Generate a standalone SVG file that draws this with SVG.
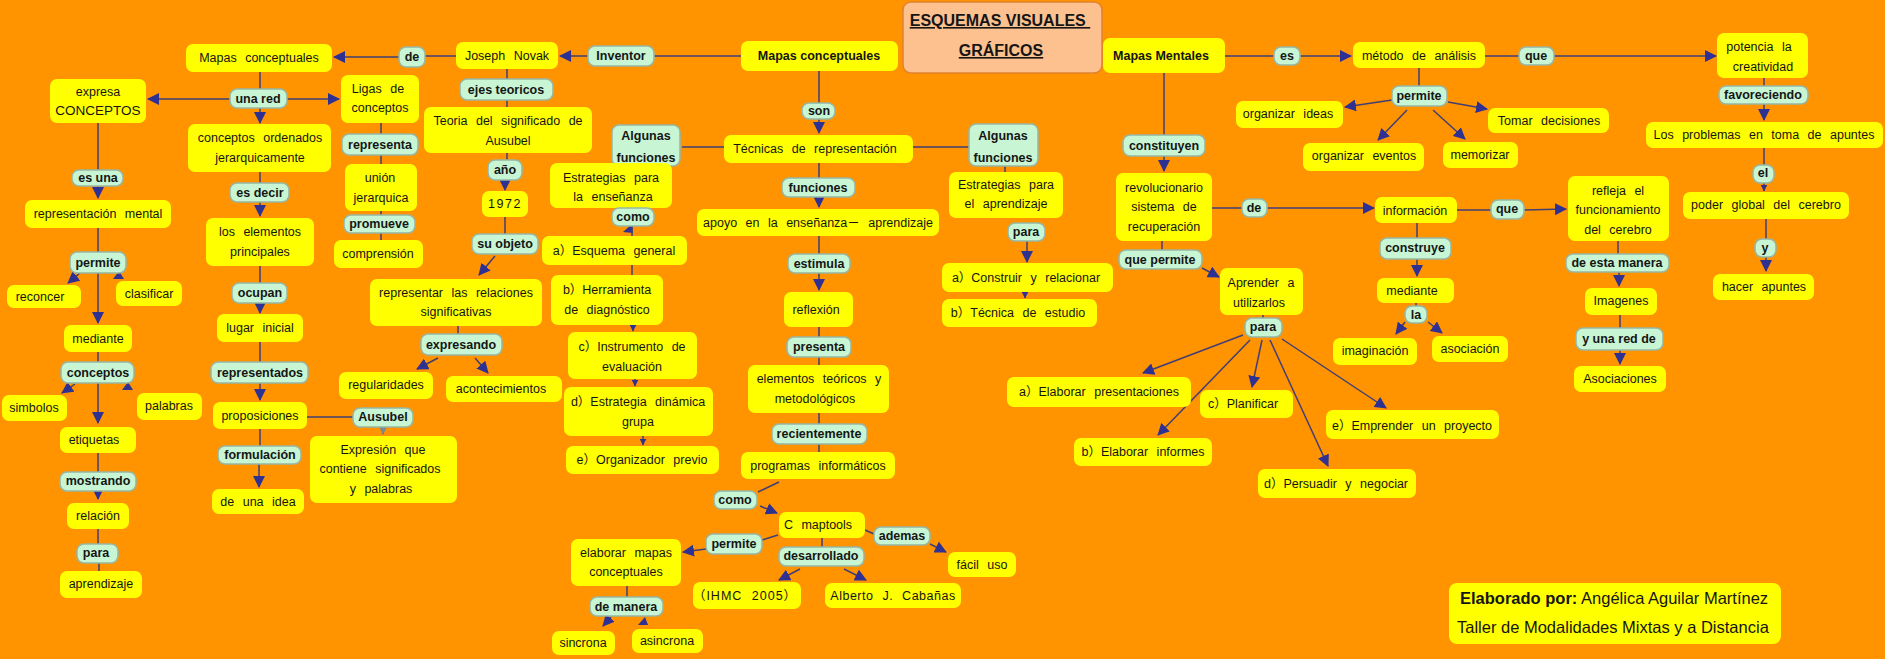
<svg xmlns="http://www.w3.org/2000/svg" width="1885" height="659" viewBox="0 0 1885 659">
<defs>
<style>
.n{fill:#FFFF00}
.l{fill:#C8F5D4;stroke:#97B7A3;stroke-width:1.5}
.t{font-family:"Liberation Sans","Noto Sans CJK SC",Arial,sans-serif;font-size:12.5px;fill:#151515;text-anchor:middle;word-spacing:5px}
.b{font-weight:bold;word-spacing:0}
.c path{stroke:#403E74;stroke-width:1.5;fill:none}
.c polygon{fill:#2E3192}
</style>
<marker id="ah" viewBox="0 0 12 12" refX="11" refY="6" markerWidth="12" markerHeight="12" markerUnits="userSpaceOnUse" orient="auto"><path d="M0,0L12,6L0,12z" fill="#2E3192"/></marker>
<marker id="ahs" viewBox="0 0 12 12" refX="11" refY="6" markerWidth="7" markerHeight="7" markerUnits="userSpaceOnUse" orient="auto"><path d="M0,0L12,6L0,12z" fill="#2E3192"/></marker>
<marker id="ahg" viewBox="0 0 12 12" refX="11" refY="6" markerWidth="9" markerHeight="9" markerUnits="userSpaceOnUse" orient="auto"><path d="M0,0L12,6L0,12z" fill="#7D8A8C"/></marker>
</defs>
<rect width="1885" height="659" fill="#FF9300"/>

<g id="connectors" class="c">
<path d="M260,72V89"/>
<path d="M230,99H148" marker-end="url(#ah)"/>
<path d="M287,99H339" marker-end="url(#ah)"/>
<path d="M260,108V123" marker-end="url(#ah)"/>
<path d="M260,172V183"/>
<path d="M260,202V216" marker-end="url(#ah)"/>
<path d="M260,266V283"/>
<path d="M260,303V313" marker-end="url(#ah)"/>
<path d="M260,342V362"/>
<path d="M260,383V400" marker-end="url(#ah)"/>
<path d="M260,429V446"/>
<path d="M259,464V487" marker-end="url(#ah)"/>
<path d="M307,417H353"/>
<path d="M383,426V434" marker-end="url(#ahg)"/>
<path d="M98,123V170"/>
<path d="M98,185V198" marker-end="url(#ah)"/>
<path d="M98,228V252"/>
<path d="M80,273L68,283" marker-end="url(#ah)"/>
<polygon points="113,279 124,279 119,271"/>
<path d="M98,273V323" marker-end="url(#ah)"/>
<path d="M98,352V362"/>
<path d="M75,384L62,393" marker-end="url(#ah)"/>
<polygon points="122,390 133,390 128,382"/>
<path d="M98,383V423" marker-end="url(#ah)"/>
<path d="M98,453V472"/>
<path d="M98,491V499" marker-end="url(#ah)"/>
<path d="M98,529V544"/>
<path d="M99,563V571"/>
<path d="M381,123V240"/>
<path d="M456,56H425"/>
<path d="M399,57H334" marker-end="url(#ah)"/>
<path d="M588,56H560" marker-end="url(#ah)"/>
<path d="M741,56H654"/>
<path d="M507,69V160"/>
<path d="M505,180V190" marker-end="url(#ah)"/>
<path d="M505,217V234"/>
<path d="M495,256L479,275" marker-end="url(#ah)"/>
<path d="M458,326V334"/>
<path d="M438,358L417,369" marker-end="url(#ah)"/>
<path d="M475,358L488,373" marker-end="url(#ah)"/>
<path d="M819,71V103"/>
<path d="M819,118V133" marker-end="url(#ah)"/>
<path d="M682,147H969"/>
<path d="M819,163V178"/>
<path d="M819,197V207" marker-end="url(#ah)"/>
<path d="M819,236V254"/>
<path d="M819,273V290" marker-end="url(#ah)"/>
<path d="M819,327V452"/>
<path d="M779,482L758,492"/>
<path d="M760,506L777,513" marker-end="url(#ah)"/>
<path d="M778,535L762,540"/>
<path d="M706,549L683,552" marker-end="url(#ah)"/>
<path d="M822,538V547"/>
<path d="M800,569L779,580" marker-end="url(#ah)"/>
<path d="M844,569L866,580" marker-end="url(#ah)"/>
<path d="M865,530L874,534"/>
<path d="M930,544L946,552" marker-end="url(#ah)"/>
<path d="M627,586V597"/>
<path d="M611,617L603,626" marker-end="url(#ah)"/>
<polygon points="638,625 648,625 645,617"/>
<polygon points="623,232 633,233 632,224"/>
<path d="M632,226V236"/>
<path d="M632,265V275"/>
<path d="M633,322V331" marker-end="url(#ahs)"/>
<path d="M635,376V386" marker-end="url(#ahs)"/>
<path d="M643,433V445" marker-end="url(#ahs)"/>
<path d="M1005,166V172"/>
<path d="M1027,241V262" marker-end="url(#ah)"/>
<path d="M1025,290V298" marker-end="url(#ahs)"/>
<path d="M1225,56H1274"/>
<path d="M1300,56H1351" marker-end="url(#ah)"/>
<path d="M1485,56H1519"/>
<path d="M1554,56H1716" marker-end="url(#ah)"/>
<path d="M1419,68V86"/>
<path d="M1392,100L1345,107" marker-end="url(#ah)"/>
<path d="M1448,102L1487,109" marker-end="url(#ah)"/>
<path d="M1407,110L1378,140" marker-end="url(#ah)"/>
<path d="M1433,110L1465,139" marker-end="url(#ah)"/>
<path d="M1164,73V135"/>
<path d="M1164,156V171" marker-end="url(#ah)"/>
<path d="M1212,208H1242"/>
<path d="M1267,208H1374" marker-end="url(#ah)"/>
<path d="M1457,210H1491"/>
<path d="M1524,210L1566,209" marker-end="url(#ah)"/>
<path d="M1417,223V238"/>
<path d="M1417,259V276" marker-end="url(#ah)"/>
<path d="M1416,303V306"/>
<path d="M1405,322L1396,334" marker-end="url(#ah)"/>
<path d="M1428,322L1442,333" marker-end="url(#ah)"/>
<path d="M1162,241V250"/>
<path d="M1202,268L1219,277" marker-end="url(#ah)"/>
<path d="M1263,315V318"/>
<path d="M1243,335L1143,373" marker-end="url(#ah)"/>
<path d="M1250,340L1158,435" marker-end="url(#ah)"/>
<path d="M1262,340L1252,387" marker-end="url(#ah)"/>
<path d="M1270,340L1328,466" marker-end="url(#ah)"/>
<path d="M1282,339L1386,408" marker-end="url(#ah)"/>
<path d="M1764,78V86"/>
<path d="M1764,104V120" marker-end="url(#ah)"/>
<path d="M1764,148V165"/>
<path d="M1764,183V191" marker-end="url(#ahs)"/>
<path d="M1766,219V239"/>
<path d="M1766,257V271" marker-end="url(#ah)"/>
<path d="M1618,241V254"/>
<path d="M1619,272V286" marker-end="url(#ah)"/>
<path d="M1620,315V328"/>
<path d="M1620,350V364" marker-end="url(#ah)"/>
</g>

<g id="title"><rect x="903" y="2" width="199" height="71" rx="8" fill="#FDC190" stroke="#E0822E" stroke-width="1.5"/>
<text class="t b" x="1000" y="26" style="font-size:16px;text-decoration:underline;word-spacing:0" xml:space="preserve">ESQUEMAS VISUALES </text>
<text class="t b" x="1001" y="56" style="font-size:16px;text-decoration:underline">GRÁFICOS</text></g>

<g id="n_mapas_conc_l"><rect class="n" x="186" y="44" width="146" height="28" rx="7"/><text class="t" x="259" y="62">Mapas conceptuales</text></g>
<g id="n_expresa"><rect class="n" x="50" y="79" width="96" height="44" rx="7"/><text class="t" x="98" y="96">expresa</text><text class="t" x="98" y="115" style="font-size:13.5px">CONCEPTOS</text></g>
<g id="n_conceptos_ord"><rect class="n" x="188" y="124" width="143" height="48" rx="7"/><text class="t" x="260" y="142">conceptos ordenados</text><text class="t" x="260" y="162">jerarquicamente</text></g>
<g id="n_elementos"><rect class="n" x="206" y="218" width="108" height="48" rx="7"/><text class="t" x="260" y="236">los elementos</text><text class="t" x="260" y="256">principales</text></g>
<g id="n_lugar"><rect class="n" x="217" y="314" width="86" height="28" rx="7"/><text class="t" x="260" y="332">lugar inicial</text></g>
<g id="n_proposiciones"><rect class="n" x="213" y="402" width="94" height="27" rx="7"/><text class="t" x="260" y="420">proposiciones</text></g>
<g id="n_idea"><rect class="n" x="212" y="489" width="92" height="25" rx="7"/><text class="t" x="258" y="506">de una idea</text></g>
<g id="n_repmental"><rect class="n" x="25" y="200" width="146" height="28" rx="7"/><text class="t" x="98" y="218">representación mental</text></g>
<g id="n_reconcer"><rect class="n" x="7" y="285" width="74" height="23" rx="7"/><text class="t" x="40" y="301">reconcer</text></g>
<g id="n_clasificar"><rect class="n" x="116" y="281" width="66" height="25" rx="7"/><text class="t" x="149" y="298">clasificar</text></g>
<g id="n_mediante_l"><rect class="n" x="64" y="325" width="68" height="27" rx="7"/><text class="t" x="98" y="343">mediante</text></g>
<g id="n_simbolos"><rect class="n" x="2" y="395" width="65" height="26" rx="7"/><text class="t" x="34" y="412">simbolos</text></g>
<g id="n_palabras"><rect class="n" x="137" y="393" width="65" height="27" rx="7"/><text class="t" x="169" y="410">palabras</text></g>
<g id="n_etiquetas"><rect class="n" x="60" y="427" width="76" height="26" rx="7"/><text class="t" x="94" y="444">etiquetas</text></g>
<g id="n_relacion"><rect class="n" x="67" y="503" width="62" height="26" rx="7"/><text class="t" x="98" y="520">relación</text></g>
<g id="n_aprendizaje"><rect class="n" x="60" y="571" width="82" height="27" rx="7"/><text class="t" x="101" y="588">aprendizaje</text></g>
<g id="n_ligas"><rect class="n" x="341" y="75" width="78" height="48" rx="7"/><text class="t" x="378" y="93">Ligas de</text><text class="t" x="380" y="112">conceptos</text></g>
<g id="n_union"><rect class="n" x="345" y="164" width="72" height="47" rx="7"/><text class="t" x="380" y="182">unión</text><text class="t" x="381" y="202">jerarquica</text></g>
<g id="n_comprension"><rect class="n" x="334" y="240" width="89" height="28" rx="7"/><text class="t" x="378" y="258">comprensión</text></g>
<g id="n_novak"><rect class="n" x="456" y="42" width="102" height="27" rx="7"/><text class="t" x="507" y="60">Joseph Novak</text></g>
<g id="n_teoria"><rect class="n" x="424" y="107" width="168" height="46" rx="7"/><text class="t" x="508" y="125">Teoria del significado de</text><text class="t" x="508" y="145">Ausubel</text></g>
<g id="n_1972"><rect class="n" x="482" y="191" width="46" height="26" rx="7"/><text class="t" x="505" y="208" style="letter-spacing:1.5px">1972</text></g>
<g id="n_representar"><rect class="n" x="370" y="279" width="172" height="47" rx="7"/><text class="t" x="456" y="297">representar las relaciones</text><text class="t" x="456" y="316">significativas</text></g>
<g id="n_regularidades"><rect class="n" x="339" y="372" width="94" height="27" rx="7"/><text class="t" x="386" y="389">regularidades</text></g>
<g id="n_acontecimientos"><rect class="n" x="446" y="376" width="116" height="26" rx="7"/><text class="t" x="501" y="393">acontecimientos</text></g>
<g id="n_expresion"><rect class="n" x="310" y="436" width="147" height="67" rx="7"/><text class="t" x="383" y="454">Expresión que</text><text class="t" x="380" y="473">contiene significados</text><text class="t" x="381" y="493">y palabras</text></g>

<g id="l_algunas_l"><rect class="l" x="612" y="125" width="68" height="41" rx="7"/><text class="t b" x="646" y="140">Algunas</text><text class="t b" x="646" y="162">funciones</text></g>
<g id="n_estr_ens"><rect class="n" x="550" y="163" width="122" height="45" rx="7"/><text class="t" x="611" y="182">Estrategias para</text><text class="t" x="613" y="201">la enseñanza</text></g>
<g id="n_esquema"><rect class="n" x="542" y="236" width="145" height="29" rx="7"/><text class="t" x="614" y="255">a）Esquema general</text></g>
<g id="n_herramienta"><rect class="n" x="551" y="275" width="112" height="50" rx="7"/><text class="t" x="607" y="294">b）Herramienta</text><text class="t" x="607" y="314">de diagnóstico</text></g>
<g id="n_instrumento"><rect class="n" x="568" y="332" width="129" height="47" rx="7"/><text class="t" x="632" y="351">c）Instrumento de</text><text class="t" x="632" y="371">evaluación</text></g>
<g id="n_dinamica"><rect class="n" x="564" y="387" width="149" height="49" rx="7"/><text class="t" x="638" y="406">d）Estrategia dinámica</text><text class="t" x="638" y="426">grupa</text></g>
<g id="n_organizador"><rect class="n" x="566" y="446" width="153" height="28" rx="7"/><text class="t" x="642" y="464">e）Organizador previo</text></g>
<g id="n_elaborar"><rect class="n" x="571" y="539" width="110" height="47" rx="7"/><text class="t" x="626" y="557">elaborar mapas</text><text class="t" x="626" y="576">conceptuales</text></g>
<g id="n_sincrona"><rect class="n" x="552" y="631" width="63" height="24" rx="7"/><text class="t" x="583" y="647">sincrona</text></g>
<g id="n_asincrona"><rect class="n" x="632" y="629" width="71" height="24" rx="7"/><text class="t" x="667" y="645">asincrona</text></g>
<g id="n_mapas_conc"><rect class="n" x="741" y="41" width="157" height="30" rx="7"/><text class="t b" x="819" y="60">Mapas conceptuales</text></g>
<g id="n_tecnicas"><rect class="n" x="724" y="135" width="189" height="28" rx="7"/><text class="t" x="815" y="153">Técnicas de representación</text></g>
<g id="n_apoyo"><rect class="n" x="697" y="209" width="242" height="27" rx="7"/><text class="t" x="818" y="227">apoyo en la enseñanza－ aprendizaje</text></g>
<g id="n_reflexion"><rect class="n" x="784" y="292" width="69" height="35" rx="7"/><text class="t" x="816" y="314">reflexión</text></g>
<g id="n_elementos_teo"><rect class="n" x="748" y="365" width="141" height="48" rx="7"/><text class="t" x="819" y="383">elementos teóricos y</text><text class="t" x="815" y="403">metodológicos</text></g>
<g id="n_programas"><rect class="n" x="741" y="452" width="154" height="27" rx="7"/><text class="t" x="818" y="470">programas informáticos</text></g>
<g id="n_cmaptools"><rect class="n" x="779" y="512" width="86" height="26" rx="7"/><text class="t" x="818" y="529">C maptools</text></g>
<g id="n_ihmc"><rect class="n" x="693" y="582" width="108" height="27" rx="7"/><text class="t" x="745" y="600" style="letter-spacing:1px">（IHMC 2005）</text></g>
<g id="n_alberto"><rect class="n" x="825" y="583" width="136" height="25" rx="7"/><text class="t" x="893" y="600" style="letter-spacing:0.5px">Alberto J. Cabañas</text></g>
<g id="n_facil"><rect class="n" x="948" y="552" width="68" height="25" rx="7"/><text class="t" x="982" y="569">fácil uso</text></g>
<g id="l_algunas_r"><rect class="l" x="969" y="124" width="69" height="42" rx="7"/><text class="t b" x="1003" y="140">Algunas</text><text class="t b" x="1003" y="162">funciones</text></g>
<g id="n_estr_apr"><rect class="n" x="949" y="172" width="114" height="46" rx="7"/><text class="t" x="1006" y="189">Estrategias para</text><text class="t" x="1006" y="208">el aprendizaje</text></g>
<g id="n_construir"><rect class="n" x="942" y="263" width="171" height="29" rx="7"/><text class="t" x="1026" y="282">a）Construir y relacionar</text></g>
<g id="n_tecnica_est"><rect class="n" x="942" y="299" width="155" height="28" rx="7"/><text class="t" x="1018" y="317">b）Técnica de estudio</text></g>
<g id="n_mapas_ment"><rect class="n" x="1103" y="38" width="122" height="35" rx="7"/><text class="t b" x="1161" y="60">Mapas Mentales</text></g>
<g id="n_revolucionario"><rect class="n" x="1116" y="173" width="96" height="68" rx="7"/><text class="t" x="1164" y="192">revolucionario</text><text class="t" x="1164" y="211">sistema de</text><text class="t" x="1164" y="231">recuperación</text></g>
<g id="n_aprender"><rect class="n" x="1220" y="268" width="83" height="47" rx="7"/><text class="t" x="1261" y="287">Aprender a</text><text class="t" x="1259" y="307">utilizarlos</text></g>
<g id="n_elab_pres"><rect class="n" x="1007" y="377" width="184" height="30" rx="7"/><text class="t" x="1099" y="396">a）Elaborar presentaciones</text></g>
<g id="n_elab_inf"><rect class="n" x="1074" y="438" width="138" height="28" rx="7"/><text class="t" x="1143" y="456">b）Elaborar informes</text></g>
<g id="n_planificar"><rect class="n" x="1200" y="390" width="93" height="28" rx="7"/><text class="t" x="1243" y="408">c）Planificar</text></g>
<g id="n_persuadir"><rect class="n" x="1258" y="469" width="158" height="29" rx="7"/><text class="t" x="1336" y="488">d）Persuadir y negociar</text></g>
<g id="n_emprender"><rect class="n" x="1326" y="410" width="173" height="29" rx="7"/><text class="t" x="1412" y="430">e）Emprender un proyecto</text></g>
<g id="n_metodo"><rect class="n" x="1353" y="42" width="132" height="26" rx="7"/><text class="t" x="1419" y="60">método de análisis</text></g>
<g id="n_org_ideas"><rect class="n" x="1236" y="101" width="107" height="27" rx="7"/><text class="t" x="1288" y="118">organizar ideas</text></g>
<g id="n_org_eventos"><rect class="n" x="1303" y="143" width="121" height="28" rx="7"/><text class="t" x="1364" y="160">organizar eventos</text></g>
<g id="n_memorizar"><rect class="n" x="1443" y="142" width="75" height="26" rx="7"/><text class="t" x="1480" y="159">memorizar</text></g>
<g id="n_tomar"><rect class="n" x="1488" y="108" width="121" height="25" rx="7"/><text class="t" x="1549" y="125">Tomar decisiones</text></g>
<g id="n_informacion"><rect class="n" x="1375" y="197" width="82" height="26" rx="7"/><text class="t" x="1415" y="215">información</text></g>
<g id="n_mediante_r"><rect class="n" x="1377" y="278" width="77" height="25" rx="7"/><text class="t" x="1412" y="295">mediante</text></g>
<g id="n_imaginacion"><rect class="n" x="1333" y="338" width="84" height="27" rx="7"/><text class="t" x="1375" y="355">imaginación</text></g>
<g id="n_asociacion"><rect class="n" x="1432" y="336" width="76" height="26" rx="7"/><text class="t" x="1470" y="353">asociación</text></g>
<g id="n_potencia"><rect class="n" x="1717" y="33" width="91" height="45" rx="7"/><text class="t" x="1759" y="51">potencia la</text><text class="t" x="1763" y="71">creatividad</text></g>
<g id="n_problemas"><rect class="n" x="1646" y="122" width="237" height="26" rx="7"/><text class="t" x="1764" y="139">Los problemas en toma de apuntes</text></g>
<g id="n_poder"><rect class="n" x="1683" y="192" width="166" height="27" rx="7"/><text class="t" x="1766" y="209">poder global del cerebro</text></g>
<g id="n_hacer"><rect class="n" x="1713" y="274" width="101" height="26" rx="7"/><text class="t" x="1764" y="291">hacer apuntes</text></g>
<g id="n_refleja"><rect class="n" x="1568" y="176" width="101" height="65" rx="7"/><text class="t" x="1618" y="195">refleja el</text><text class="t" x="1618" y="214">funcionamiento</text><text class="t" x="1618" y="234">del cerebro</text></g>
<g id="n_imagenes"><rect class="n" x="1585" y="288" width="72" height="27" rx="7"/><text class="t" x="1621" y="305">Imagenes</text></g>
<g id="n_asociaciones"><rect class="n" x="1574" y="366" width="92" height="26" rx="7"/><text class="t" x="1620" y="383">Asociaciones</text></g>
<g id="n_elaborado"><rect class="n" x="1449" y="583" width="332" height="61" rx="8"/>
<text x="1460" y="604" style="font-family:'Liberation Sans',Arial,sans-serif;font-size:16.5px;fill:#151515"><tspan font-weight="bold">Elaborado por:</tspan> Angélica Aguilar Martínez</text>
<text x="1457" y="633" style="font-family:'Liberation Sans',Arial,sans-serif;font-size:16.5px;fill:#151515">Taller de Modalidades Mixtas y a Distancia</text></g>

<g id="l_una_red"><rect class="l" x="230" y="89" width="57" height="19" rx="7"/><text class="t b" x="258" y="103">una red</text></g>
<g id="l_es_decir"><rect class="l" x="230" y="183" width="59" height="19" rx="7"/><text class="t b" x="260" y="197">es decir</text></g>
<g id="l_ocupan"><rect class="l" x="232" y="283" width="55" height="20" rx="7"/><text class="t b" x="260" y="297">ocupan</text></g>
<g id="l_representados"><rect class="l" x="211" y="362" width="97" height="21" rx="7"/><text class="t b" x="260" y="377">representados</text></g>
<g id="l_formulacion"><rect class="l" x="218" y="446" width="83" height="18" rx="7"/><text class="t b" x="260" y="459">formulación</text></g>
<g id="l_es_una"><rect class="l" x="72" y="170" width="51" height="16" rx="7"/><text class="t b" x="98" y="182">es una</text></g>
<g id="l_permite_l"><rect class="l" x="70" y="252" width="56" height="21" rx="7"/><text class="t b" x="98" y="267">permite</text></g>
<g id="l_conceptos"><rect class="l" x="61" y="362" width="73" height="21" rx="7"/><text class="t b" x="98" y="377">conceptos</text></g>
<g id="l_mostrando"><rect class="l" x="60" y="472" width="76" height="19" rx="7"/><text class="t b" x="98" y="485">mostrando</text></g>
<g id="l_para_l"><rect class="l" x="77" y="544" width="41" height="19" rx="7"/><text class="t b" x="96" y="557">para</text></g>
<g id="l_representa"><rect class="l" x="342" y="134" width="76" height="21" rx="7"/><text class="t b" x="380" y="149">representa</text></g>
<g id="l_promueve"><rect class="l" x="344" y="215" width="71" height="18" rx="7"/><text class="t b" x="379" y="228">promueve</text></g>
<g id="l_de_top"><rect class="l" x="399" y="47" width="26" height="20" rx="7"/><text class="t b" x="412" y="61">de</text></g>
<g id="l_inventor"><rect class="l" x="588" y="46" width="66" height="20" rx="7"/><text class="t b" x="621" y="60">Inventor</text></g>
<g id="l_ejes"><rect class="l" x="460" y="79" width="93" height="21" rx="7"/><text class="t b" x="506" y="94">ejes teoricos</text></g>
<g id="l_anio"><rect class="l" x="488" y="160" width="34" height="20" rx="7"/><text class="t b" x="505" y="174">año</text></g>
<g id="l_su_objeto"><rect class="l" x="472" y="234" width="66" height="20" rx="7"/><text class="t b" x="505" y="248">su objeto</text></g>
<g id="l_expresando"><rect class="l" x="421" y="334" width="81" height="21" rx="7"/><text class="t b" x="461" y="349">expresando</text></g>
<g id="l_ausubel"><rect class="l" x="353" y="408" width="60" height="19" rx="7"/><text class="t b" x="383" y="421">Ausubel</text></g>
<g id="l_como_l"><rect class="l" x="612" y="208" width="42" height="18" rx="7"/><text class="t b" x="633" y="221">como</text></g>
<g id="l_son"><rect class="l" x="802" y="103" width="33" height="16" rx="7"/><text class="t b" x="819" y="115">son</text></g>
<g id="l_funciones"><rect class="l" x="782" y="178" width="73" height="19" rx="7"/><text class="t b" x="818" y="192">funciones</text></g>
<g id="l_estimula"><rect class="l" x="788" y="254" width="62" height="19" rx="7"/><text class="t b" x="819" y="268">estimula</text></g>
<g id="l_presenta"><rect class="l" x="787" y="337" width="64" height="20" rx="7"/><text class="t b" x="819" y="351">presenta</text></g>
<g id="l_recientemente"><rect class="l" x="772" y="424" width="95" height="20" rx="7"/><text class="t b" x="819" y="438">recientemente</text></g>
<g id="l_como_c"><rect class="l" x="714" y="491" width="43" height="18" rx="7"/><text class="t b" x="735" y="504">como</text></g>
<g id="l_permite_c"><rect class="l" x="706" y="534" width="56" height="20" rx="7"/><text class="t b" x="734" y="548">permite</text></g>
<g id="l_desarrollado"><rect class="l" x="779" y="547" width="85" height="19" rx="7"/><text class="t b" x="821" y="560">desarrollado</text></g>
<g id="l_ademas"><rect class="l" x="874" y="527" width="56" height="18" rx="7"/><text class="t b" x="902" y="540">ademas</text></g>
<g id="l_de_manera"><rect class="l" x="590" y="597" width="73" height="19" rx="7"/><text class="t b" x="626" y="611">de manera</text></g>
<g id="l_para_r"><rect class="l" x="1008" y="223" width="37" height="18" rx="7"/><text class="t b" x="1026" y="236">para</text></g>
<g id="l_constituyen"><rect class="l" x="1123" y="135" width="82" height="21" rx="7"/><text class="t b" x="1164" y="150">constituyen</text></g>
<g id="l_que_permite"><rect class="l" x="1119" y="250" width="83" height="19" rx="7"/><text class="t b" x="1160" y="264">que permite</text></g>
<g id="l_es"><rect class="l" x="1274" y="47" width="26" height="18" rx="7"/><text class="t b" x="1287" y="60">es</text></g>
<g id="l_que_top"><rect class="l" x="1519" y="47" width="35" height="18" rx="7"/><text class="t b" x="1536" y="60">que</text></g>
<g id="l_permite_r"><rect class="l" x="1392" y="86" width="55" height="20" rx="7"/><text class="t b" x="1419" y="100">permite</text></g>
<g id="l_de_r"><rect class="l" x="1242" y="199" width="25" height="18" rx="7"/><text class="t b" x="1254" y="212">de</text></g>
<g id="l_que_mid"><rect class="l" x="1491" y="200" width="33" height="19" rx="7"/><text class="t b" x="1507" y="213">que</text></g>
<g id="l_construye"><rect class="l" x="1380" y="238" width="71" height="21" rx="7"/><text class="t b" x="1415" y="252">construye</text></g>
<g id="l_la"><rect class="l" x="1405" y="306" width="22" height="17" rx="7"/><text class="t b" x="1416" y="319">la</text></g>
<g id="l_para_ap"><rect class="l" x="1245" y="318" width="37" height="19" rx="7"/><text class="t b" x="1263" y="331">para</text></g>
<g id="l_favoreciendo"><rect class="l" x="1719" y="86" width="89" height="18" rx="7"/><text class="t b" x="1763" y="99">favoreciendo</text></g>
<g id="l_el"><rect class="l" x="1753" y="165" width="21" height="18" rx="7"/><text class="t b" x="1763" y="177">el</text></g>
<g id="l_y"><rect class="l" x="1755" y="239" width="21" height="18" rx="7"/><text class="t b" x="1765" y="252">y</text></g>
<g id="l_de_esta_manera"><rect class="l" x="1566" y="254" width="103" height="18" rx="7"/><text class="t b" x="1617" y="267">de esta manera</text></g>
<g id="l_y_una_red"><rect class="l" x="1576" y="328" width="87" height="22" rx="7"/><text class="t b" x="1619" y="343">y una red de</text></g>
</svg>
